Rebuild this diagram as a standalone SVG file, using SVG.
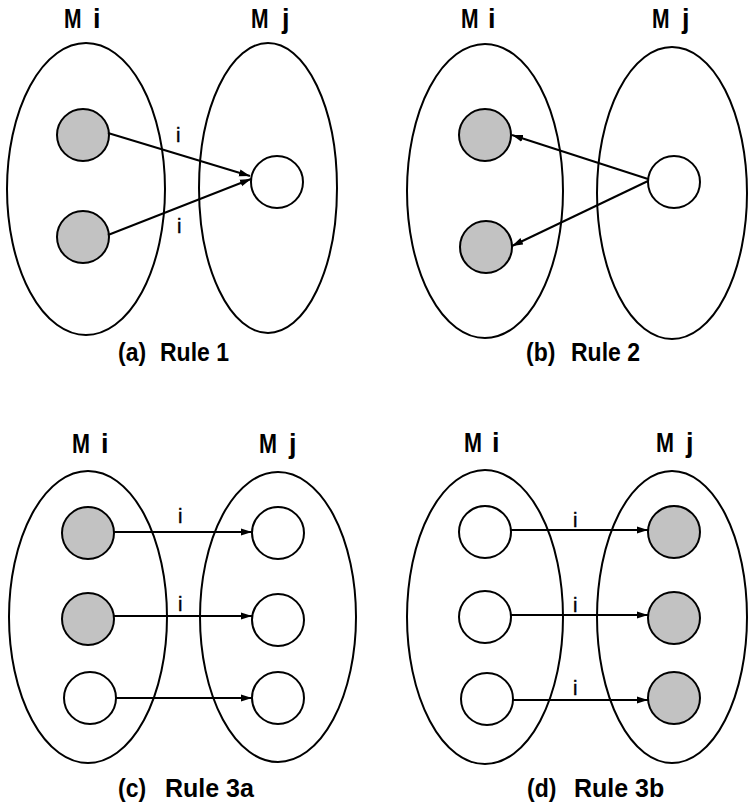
<svg xmlns="http://www.w3.org/2000/svg" width="748" height="805" viewBox="0 0 748 805">
<style>
.set{fill:none;stroke:#000;stroke-width:2}
.n{stroke:#000;stroke-width:2;fill:#fff}
.s{fill:#c2c2c2}
.e{stroke:#000;stroke-width:2;fill:none;marker-end:url(#ah)}
.t{font-family:"Liberation Sans",Arial,Helvetica,sans-serif;font-weight:bold;font-size:27px;fill:#000}
.c{font-family:"Liberation Sans",Arial,Helvetica,sans-serif;font-weight:bold;font-size:25px;fill:#000}
.l{font-family:"Liberation Sans",Arial,Helvetica,sans-serif;font-size:20px;fill:#000;stroke:#000;stroke-width:0.4}
</style>
<defs>
<marker id="ah" markerUnits="userSpaceOnUse" markerWidth="12" markerHeight="8" refX="11" refY="4" orient="auto">
<path d="M0,0.5 L11,4 L0,7.5 z" fill="#000"/>
</marker>
</defs>
<rect width="748" height="805" fill="#fff"/>

<g id="panel-a">
<g id="a-Mi"><ellipse class="set" cx="86" cy="189" rx="79" ry="146"/><text class="t" transform="translate(64,28) scale(0.78,1)">M</text><text class="t" x="93" y="28">i</text></g>
<g id="a-Mj"><ellipse class="set" cx="268" cy="188" rx="69" ry="145"/><text class="t" transform="translate(251,28) scale(0.78,1)">M</text><text class="t" x="282" y="28">j</text></g>
<g id="a-n1"><circle class="n s" cx="83" cy="135" r="26"/></g>
<g id="a-n2"><circle class="n s" cx="83" cy="237" r="26"/></g>
<g id="a-n3"><circle class="n" cx="277" cy="182" r="26"/></g>
<text class="c" transform="translate(118,361) scale(0.92,1)">(a)</text><text class="c" transform="translate(160,361) scale(0.92,1)">Rule 1</text>
</g>

<g id="panel-b">
<g id="b-Mi"><ellipse class="set" cx="485" cy="191" rx="78" ry="147"/><text class="t" transform="translate(461,28) scale(0.78,1)">M</text><text class="t" x="488" y="28">i</text></g>
<g id="b-Mj"><ellipse class="set" cx="672" cy="193" rx="75" ry="146"/><text class="t" transform="translate(652,28) scale(0.78,1)">M</text><text class="t" x="682" y="28">j</text></g>
<g id="b-n1"><circle class="n s" cx="485" cy="135" r="26"/></g>
<g id="b-n2"><circle class="n s" cx="486" cy="247" r="26"/></g>
<g id="b-n3"><circle class="n" cx="674" cy="182" r="26"/></g>
<text class="c" transform="translate(526,361) scale(0.92,1)">(b)</text><text class="c" transform="translate(571,361) scale(0.92,1)">Rule 2</text>
</g>

<g id="panel-c">
<g id="c-Mi"><ellipse class="set" cx="88" cy="617" rx="79" ry="146"/><text class="t" transform="translate(72,453) scale(0.8,1)">M</text><text class="t" x="101" y="453">i</text></g>
<g id="c-Mj"><ellipse class="set" cx="278" cy="617" rx="78" ry="145"/><text class="t" transform="translate(259,453) scale(0.8,1)">M</text><text class="t" x="289" y="453">j</text></g>
<g id="c-n1"><circle class="n s" cx="88" cy="533" r="26"/></g>
<g id="c-n2"><circle class="n s" cx="88" cy="619" r="26"/></g>
<g id="c-n3"><circle class="n" cx="90" cy="698" r="26"/></g>
<g id="c-n4"><circle class="n" cx="278" cy="533" r="26"/></g>
<g id="c-n5"><circle class="n" cx="278" cy="620" r="26"/></g>
<g id="c-n6"><circle class="n" cx="278" cy="698" r="26"/></g>
<text class="c" transform="translate(118,797) scale(0.92,1)">(c)</text><text class="c" transform="translate(165,797) scale(1.0,1)">Rule 3a</text>
</g>

<g id="panel-d">
<g id="d-Mi"><ellipse class="set" cx="485" cy="617" rx="78" ry="147"/><text class="t" transform="translate(464,452) scale(0.8,1)">M</text><text class="t" x="492" y="452">i</text></g>
<g id="d-Mj"><ellipse class="set" cx="672" cy="617" rx="75" ry="146"/><text class="t" transform="translate(656,452) scale(0.8,1)">M</text><text class="t" x="686" y="452">j</text></g>
<g id="d-n1"><circle class="n" cx="485" cy="532" r="26"/></g>
<g id="d-n2"><circle class="n" cx="485" cy="617" r="26"/></g>
<g id="d-n3"><circle class="n" cx="487" cy="699" r="26"/></g>
<g id="d-n4"><circle class="n s" cx="674" cy="532" r="26"/></g>
<g id="d-n5"><circle class="n s" cx="674" cy="618" r="26"/></g>
<g id="d-n6"><circle class="n s" cx="674" cy="698" r="26"/></g>
<text class="c" transform="translate(527,797) scale(0.92,1)">(d)</text><text class="c" transform="translate(574,797) scale(1.0,1)">Rule 3b</text>
</g>

<g id="connectors">
<line class="e" x1="108" y1="133" x2="250" y2="176"/>
<line class="e" x1="108" y1="235" x2="251" y2="179"/>
<text class="l" x="176" y="142">i</text>
<text class="l" x="177" y="233">i</text>

<line class="e" x1="648" y1="179" x2="512" y2="135"/>
<line class="e" x1="648" y1="181" x2="512" y2="246"/>

<line class="e" x1="114" y1="532" x2="252" y2="532"/>
<line class="e" x1="114" y1="616" x2="252" y2="616"/>
<line class="e" x1="116" y1="698" x2="252" y2="698"/>
<text class="l" x="178" y="523">i</text>
<text class="l" x="178" y="611">i</text>

<line class="e" x1="511" y1="530" x2="648" y2="530"/>
<line class="e" x1="511" y1="615" x2="648" y2="615"/>
<line class="e" x1="513" y1="700" x2="648" y2="700"/>
<text class="l" x="573" y="527">i</text>
<text class="l" x="573" y="612">i</text>
<text class="l" x="573" y="695">i</text>
</g>
</svg>
